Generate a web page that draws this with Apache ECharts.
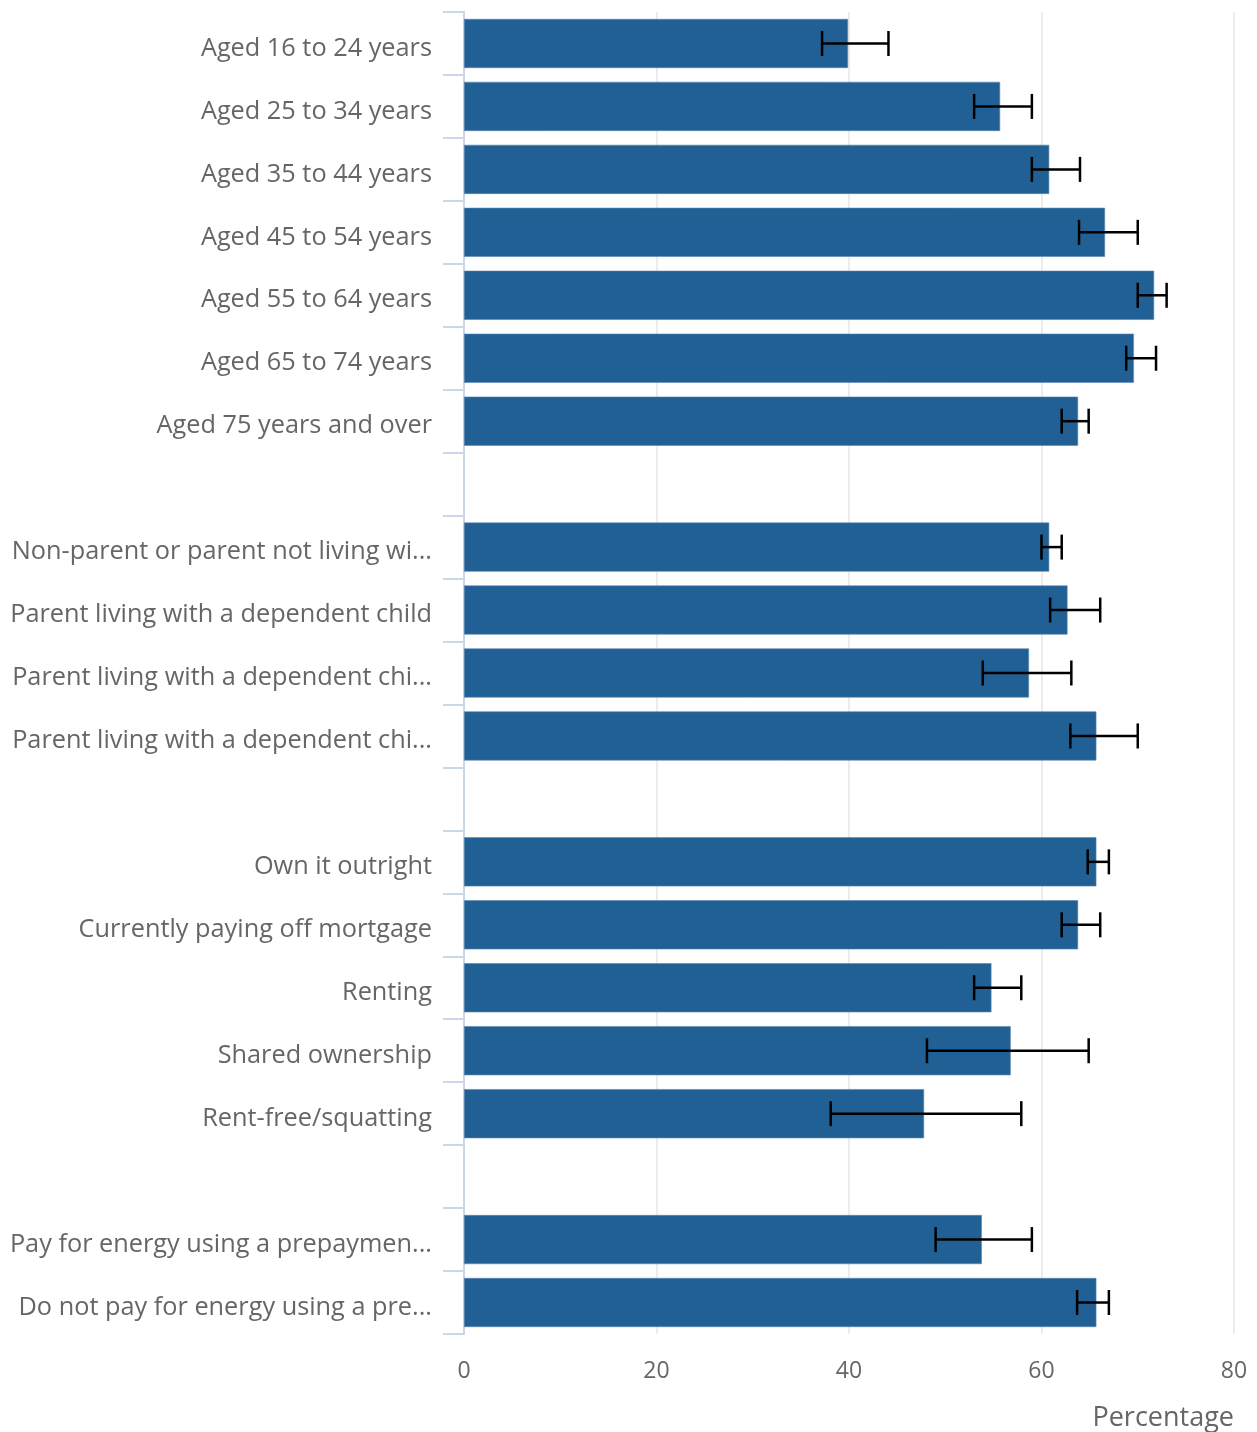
<!DOCTYPE html>
<html>
<head>
<meta charset="utf-8">
<script src="https://cdn.jsdelivr.net/npm/echarts@6/dist/echarts.min.js"></script>
<style>
html,body{margin:0;padding:0;background:#fff;}
#chart{width:1257px;height:1432px;}
</style>
</head>
<body>
<div id="chart"></div>
<script>
const categories = [
  'Aged 16 to 24 years', 'Aged 25 to 34 years', 'Aged 35 to 44 years', 'Aged 45 to 54 years',
  'Aged 55 to 64 years', 'Aged 65 to 74 years', 'Aged 75 years and over', ' ',
  'Non-parent or parent not living wi...', 'Parent living with a dependent child',
  'Parent living with a dependent chi...', 'Parent living with a dependent chi... ', '  ',
  'Own it outright', 'Currently paying off mortgage', 'Renting', 'Shared ownership', 'Rent-free/squatting', '   ',
  'Pay for energy using a prepaymen...', 'Do not pay for energy using a pre...'
];
const values = [39.9, 55.7, 60.8, 66.6, 71.7, 69.6, 63.8, null, 60.8, 62.7, 58.7, 65.7, null, 65.7, 63.8, 54.8, 56.8, 47.8, null, 53.8, 65.7];
const lower  = [37.2, 53.0, 59.0, 63.9, 70.0, 68.8, 62.1, null, 60.0, 60.9, 53.9, 63.0, null, 64.8, 62.1, 53.0, 48.1, 38.1, null, 49.0, 63.7];
const upper  = [44.1, 59.0, 64.0, 70.0, 73.0, 71.9, 64.9, null, 62.1, 66.1, 63.1, 70.0, null, 67.0, 66.1, 57.9, 64.9, 57.9, null, 59.0, 67.0];
const xTicks = [0, 20, 40, 60, 80];
const axisName = 'Percentage';

const errData = [];
categories.forEach((c, i) => {
  if (lower[i] != null) errData.push([i, lower[i], upper[i]]);
});

const chart = echarts.init(document.getElementById('chart'));
chart.setOption({
  animation: false,
  textStyle: { fontFamily: 'Open Sans' },
  grid: { left: 464, right: 23, top: 12, bottom: 96, containLabel: false },
  xAxis: {
    type: 'value',
    min: xTicks[0], max: xTicks[xTicks.length - 1], interval: 20,
    name: axisName,
    nameLocation: 'end',
    nameGap: 0,
    nameTextStyle: { color: '#666', fontSize: 27, fontFamily: 'Open Sans', align: 'right', verticalAlign: 'top', padding: [71, 0, 0, 0] },
    axisLine: { show: false },
    axisTick: { show: false },
    axisLabel: { color: '#666', fontSize: 23, fontFamily: 'Open Sans', margin: 26 },
    splitLine: { show: true, lineStyle: { color: '#e6e6e6', width: 1.5 } }
  },
  yAxis: {
    type: 'category',
    data: categories,
    inverse: true,
    axisLine: { show: true, lineStyle: { color: '#ccd6eb', width: 2 } },
    axisTick: { show: true, length: 21, lineStyle: { color: '#ccd6eb', width: 2 } },
    axisLabel: {
      color: '#666', fontSize: 25.3, fontFamily: 'Open Sans', margin: 32,
      formatter: function (v) { const t = v.trim(); return t ? '{a|' + t + '}' : ''; },
      rich: { a: { color: '#666', fontSize: 25.3, fontFamily: 'Open Sans', padding: [10, 0, 0, 0] } }
    },
    splitLine: { show: false }
  },
  series: [
    {
      type: 'bar',
      data: values,
      barCategoryGap: '22%',
      itemStyle: { color: '#206095', borderColor: '#5b87b0', borderWidth: 0.6 }
    },
    {
      type: 'custom',
      data: errData,
      encode: { x: [1, 2], y: 0 },
      z: 10,
      renderItem: function (params, api) {
        const cat = api.value(0);
        const lo = api.coord([api.value(1), cat]);
        const hi = api.coord([api.value(2), cat]);
        const h = 12.5;
        const style = { stroke: '#000', lineWidth: 2.5 };
        return {
          type: 'group',
          children: [
            { type: 'line', shape: { x1: lo[0], y1: lo[1], x2: hi[0], y2: hi[1] }, style: style },
            { type: 'line', shape: { x1: lo[0], y1: lo[1] - h, x2: lo[0], y2: lo[1] + h }, style: style },
            { type: 'line', shape: { x1: hi[0], y1: hi[1] - h, x2: hi[0], y2: hi[1] + h }, style: style }
          ]
        };
      }
    }
  ]
});
</script>
</body>
</html>
